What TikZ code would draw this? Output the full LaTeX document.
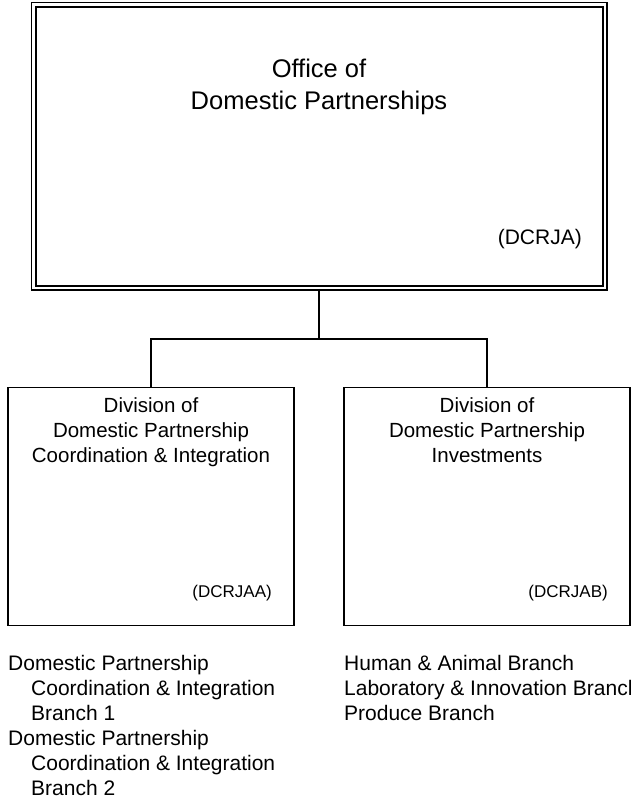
\documentclass[tikz,border=0pt]{standalone}
\usepackage{fontspec}
\setmainfont{Liberation Sans}

\begin{document}
\begin{tikzpicture}[x=1pt, y=-1pt,
        unit/.style={draw, line width=1.6pt, minimum width=286pt, minimum height=238pt, inner sep=0pt},
        wire/.style={line width=1.6pt},
        unitname/.style={anchor=north, align=center, inner sep=0pt, font=\fontsize{20.5}{25}\selectfont},
        code/.style={anchor=east, inner sep=0pt, font=\fontsize{17}{20}\selectfont},
        branches/.style={anchor=north west, align=left, inner sep=0pt, font=\fontsize{21}{25}\selectfont}]
        \useasboundingbox (0,0) rectangle (630,801);
        % office
        \node[draw, double, double distance=2.6pt, line width=1.7pt, minimum width=571.5pt, minimum height=283.5pt, inner sep=0pt] (office) at (319.25,146.25) {};
        \node[align=center, inner sep=0pt, font=\fontsize{25.5}{32}\selectfont] (officename) at (319,87) {Office of\\Domestic Partnerships};
        \node[code, font=\fontsize{21}{24}\selectfont] (officecode) at (582,239) {(DCRJA)};
        % divisions
        \node[unit] (divA) at (151,506.5) {};
        \node[unit] (divB) at (487,506.5) {};
        \node[unitname] (divAname) at (151,397) {Division of\\Domestic Partnership\\Coordination \& Integration};
        \node[unitname] (divBname) at (487,397) {Division of\\Domestic Partnership\\Investments};
        \node[code] (divAcode) at (272,593) {(DCRJAA)};
        \node[code] (divBcode) at (608,593) {(DCRJAB)};
        % connectors
        \coordinate (hub) at (319.25,339);
        \draw[wire] (office) -- (hub);
        \draw[wire] (hub) -| (divA);
        \draw[wire] (hub) -| (divB);
        % branches
        \node[branches] (branchesA) at (8,655) {Domestic Partnership\\
            \hspace*{23pt}Coordination \& Integration\\
            \hspace*{23pt}Branch 1\\
            Domestic Partnership\\
            \hspace*{23pt}Coordination \& Integration\\
            \hspace*{23pt}Branch 2};
        \node[branches] (branchesB) at (344,655) {Human \& Animal Branch\\
            Laboratory \& Innovation Branch\\
            Produce Branch};
    \end{tikzpicture}
\end{document}
